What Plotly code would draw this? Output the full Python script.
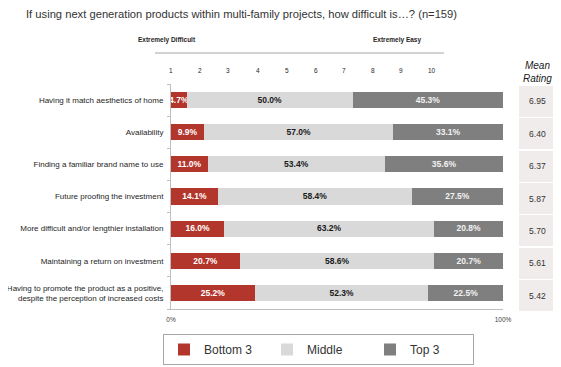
import plotly.graph_objects as go

categories = [
    "Having it match aesthetics of home",
    "Availability",
    "Finding a familiar brand name to use",
    "Future proofing the investment",
    "More difficult and/or lengthier installation",
    "Maintaining a return on investment",
    "Having to promote the product as a positive,<br>despite the perception of increased costs",
]
bottom3 = [4.7, 9.9, 11.0, 14.1, 16.0, 20.7, 25.2]
middle = [50.0, 57.0, 53.4, 58.4, 63.2, 58.6, 52.3]
top3 = [45.3, 33.1, 35.6, 27.5, 20.8, 20.7, 22.5]
mean_rating = [6.95, 6.40, 6.37, 5.87, 5.70, 5.61, 5.42]
scale_labels = ["1", "2", "3", "4", "5", "6", "7", "8", "9", "10"]
scale_x_px = [171, 200, 228, 258, 287, 316, 344, 373, 401, 432]

# page has an 8px body margin; figure sized to fill the rest of the window
OFF = 8
W, H = 561 - OFF, 367 - OFF


def px(x):
    return (x - OFF) / W


def py(y):
    return 1 - (y - OFF) / H


pos = list(range(len(categories)))

RED = "#b3362c"
MID = "#d9d9d9"
TOP = "#7f7f7f"
BOXC = "#f1ecec"
LBL = "Liberation Sans"

fig = go.Figure()
series = [("Bottom 3", bottom3, RED, "#ffffff"),
          ("Middle", middle, MID, "#1a1a1a"),
          ("Top 3", top3, TOP, "#f2f2f2")]
for name, vals, col, tcol in series:
    fig.add_trace(go.Bar(
        name=name, y=pos, x=vals, orientation="h",
        marker=dict(color=col, line=dict(width=0)),
        text=[f"{v:.1f}%" for v in vals], textposition="inside",
        insidetextanchor="middle", textangle=0,
        textfont=dict(family=LBL, size=9, color=tcol, weight="bold"),
        width=0.5, xaxis="x", yaxis="y",
    ))

fig.add_trace(go.Bar(
    y=pos, x=[1] * len(pos), orientation="h", showlegend=False,
    marker=dict(color=BOXC, line=dict(width=0)), width=0.96,
    text=[f"{v:.2f}" for v in mean_rating], textposition="inside",
    insidetextanchor="middle", textangle=0,
    textfont=dict(family=LBL, size=8.5, color="#333333"),
    xaxis="x2", yaxis="y2", hoverinfo="skip",
))

fig.update_layout(
    width=W, height=H, margin=dict(l=0, r=0, t=0, b=0, autoexpand=False),
    paper_bgcolor="white", plot_bgcolor="white",
    barmode="stack", bargap=0.5,
    uniformtext=dict(minsize=8, mode="show"),
    xaxis=dict(domain=[px(171), px(503)], range=[0, 100], tickvals=[0, 100], ticktext=["0%", "100%"],
               automargin=False,
               showline=True, linecolor="#bfbfbf", linewidth=1, showgrid=False, zeroline=False,
               ticks="", tickfont=dict(family=LBL, size=6.5, color="#404040"), ticklabelstandoff=4),
    yaxis=dict(domain=[py(309), py(84)], range=[6.5, -0.5], tickvals=pos, ticktext=categories,
               automargin=False,
               showline=True, linecolor="#bfbfbf", linewidth=1, showgrid=False, zeroline=False,
               ticks="", tickfont=dict(family=LBL, size=8, color="#262626"),
               ticklabelstandoff=5,
               minor=dict(tickvals=[-0.5 + i for i in range(len(categories) + 1)], ticks="outside",
                          ticklen=3, tickcolor="#bfbfbf", showgrid=False)),
    xaxis2=dict(domain=[px(519), px(556)], range=[0, 1], visible=False, automargin=False),
    yaxis2=dict(domain=[py(312), py(85)], range=[6.5, -0.5], visible=False,
                anchor="x2", automargin=False),
    legend=dict(orientation="h", x=px(163), xanchor="left", y=py(334), yanchor="top",
                bordercolor="#a6a6a6", borderwidth=1, bgcolor="white",
                font=dict(family=LBL, size=12, color="#333333"),
                entrywidth=58, itemwidth=30, traceorder="normal"),
    showlegend=True,
)

ann = [
    dict(text="If using next generation products within multi-family projects, how difficult is…? (n=159)",
         x=px(24), y=py(14), xanchor="left", yanchor="middle",
         font=dict(family=LBL, size=11.2, color="#333333")),
    dict(text="<b>Extremely Difficult</b>", x=px(167), y=py(40), xanchor="center", yanchor="middle",
         font=dict(family=LBL, size=6.5, color="#262626")),
    dict(text="<b>Extremely Easy</b>", x=px(397), y=py(40), xanchor="center", yanchor="middle",
         font=dict(family=LBL, size=6.5, color="#262626")),
    dict(text="<i>Mean<br>Rating</i>", x=px(537), y=py(72), xanchor="center", yanchor="middle",
         font=dict(family=LBL, size=10, color="#1a1a1a")),
]
for lab, xp in zip(scale_labels, scale_x_px):
    ann.append(dict(text=lab, x=px(xp), y=py(70), xanchor="center", yanchor="middle",
                    font=dict(family=LBL, size=6.5, color="#262626")))
for a in ann:
    a.update(xref="paper", yref="paper", showarrow=False)
fig.update_layout(annotations=ann)

fig.add_shape(type="line", xref="paper", yref="paper", x0=px(155), x1=px(444),
              y0=py(53), y1=py(53), line=dict(color="#a6a6a6", width=1))

fig.write_html("out.html")
